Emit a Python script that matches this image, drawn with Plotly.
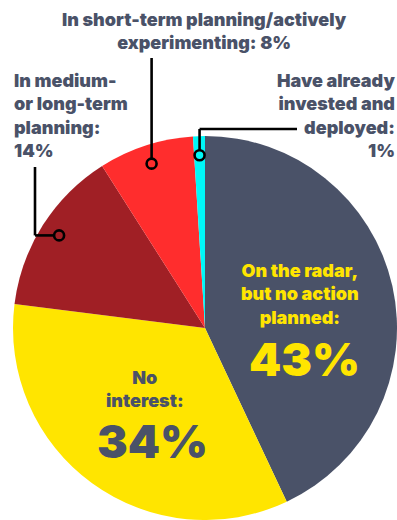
import math
import plotly.graph_objects as go

# ---- data ----
categories = [
    "On the radar, but no action planned",
    "No interest",
    "In medium- or long-term planning",
    "In short-term planning/actively experimenting",
    "Have already invested and deployed",
]
values = [43, 34, 14, 8, 1]
colors = ["#4a5268", "#ffe500", "#a01f25", "#ff2d2d", "#00f8f8"]

W, H = 397, 520
TXT = "#4a5268"
FONT = "Inter"
FS = 18
BIG = 46

# pie geometry (pixels)
CX, CY, R = 205, 328, 192

fig = go.Figure(go.Pie(
    labels=categories, values=values, sort=False, direction="clockwise",
    rotation=0, marker=dict(colors=colors, line=dict(width=0)),
    textinfo="none", hoverinfo="label+percent", showlegend=False,
    domain=dict(x=[(CX - R) / W, (CX + R) / W], y=[1 - (CY + R) / H, 1 - (CY - R) / H]),
))

def px(x):
    return x / W

def py(y):
    return 1 - y / H

annotations = []

def block(lines, x, first_base, last_base, size, color=TXT, anchor="center"):
    mid = (first_base + last_base) / 2 - 0.36 * size
    annotations.append(dict(
        text="<br>".join(lines), x=px(x), y=py(mid), xref="paper", yref="paper",
        xanchor=anchor, yanchor="middle", align=anchor, showarrow=False,
        font=dict(family=FONT, size=size, color=color, weight=900),
    ))

# outer labels
block(["In short-term planning/actively", f"experimenting: {values[3]}%"], 205, 26, 48, FS)
block(["In medium-", "or long-term", "planning:", f"{values[2]}%"], 12, 89, 154, FS, anchor="left")
block(["Have already", "invested and", "deployed:", f"{values[4]}%"], 397, 89, 154, FS, anchor="right")

# inner labels
block(["On the radar,", "but no action", "planned:"], 300, 279, 322, FS, color=colors[1])
block([f"{values[0]}%"], 304, 376, 376, BIG, color=colors[1])
block(["No", "interest:"], 145, 385, 406, FS)
block([f"{values[1]}%"], 152, 458, 458, BIG)

# leader lines and markers at slice mid-angles
total = sum(values)
cum = 0
mids = []
for v in values:
    mids.append((cum + v / 2) / total * 360)
    cum += v

def point(i, frac=0.9):
    a = math.radians(mids[i])
    return CX + frac * R * math.sin(a), CY - frac * R * math.cos(a)

shapes = []
LW = 2.6
def seg(x0, y0, x1, y1):
    shapes.append(dict(type="line", xref="paper", yref="paper",
                       x0=px(x0), y0=py(y0), x1=px(x1), y1=py(y1),
                       line=dict(color="black", width=LW)))

def dot(x, y, fill):
    r = 5
    shapes.append(dict(type="circle", xref="paper", yref="paper",
                       x0=px(x - r), x1=px(x + r), y0=py(y + r), y1=py(y - r),
                       fillcolor=fill, line=dict(color="black", width=LW)))

# short-term
sx, sy = point(3)
seg(sx, sy, sx, 58)
# medium
mx, my = point(2)
seg(mx, my, 35, my)
seg(35, my, 35, 167)
# already invested
ax, ay = point(4)
seg(ax, ay, ax, 129)
seg(ax, 129, 297, 129)

dot(sx, sy, colors[3])
dot(mx, my, colors[2])
dot(ax, ay, colors[4])

fig.update_layout(
    width=W, height=H, margin=dict(l=0, r=0, t=0, b=0),
    paper_bgcolor="white", plot_bgcolor="white",
    annotations=annotations, shapes=shapes,
)
fig.write_html("out.html")
